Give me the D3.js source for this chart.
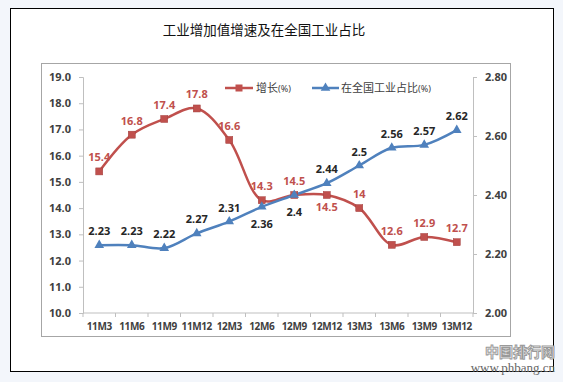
<!DOCTYPE html>
<html><head><meta charset="utf-8">
<script src="https://cdn.jsdelivr.net/npm/d3@7"></script>
<style>
html,body{margin:0;padding:0;background:#f3f6fb;}
svg{display:block;}
</style></head>
<body>
<svg id="c" width="563" height="382"></svg>
<script>
const categories = ["11M3","11M6","11M9","11M12","12M3","12M6","12M9","12M12","13M3","13M6","13M9","13M12"];
const growth = [15.4,16.8,17.4,17.8,16.6,14.3,14.5,14.5,14,12.6,12.9,12.7];
const share = [2.23,2.23,2.22,2.27,2.31,2.36,2.4,2.44,2.5,2.56,2.57,2.62];
const leftTicks = [10,11,12,13,14,15,16,17,18,19];
const rightTicks = [2.0,2.2,2.4,2.6,2.8];
const growthLabelBelow = [false,false,false,false,false,false,false,true,false,false,false,false];
const shareLabelBelow = [false,false,false,false,false,true,true,false,false,false,false,false];
const title = "工业增加值增速及在全国工业占比";
const seriesNames = ["增长", "在全国工业占比"];

const svg = d3.select("#c");
const RED = "#c0504d", BLUE = "#4f81bd";
const numFont = "'Noto Sans', 'DejaVu Sans', sans-serif";
const cjk = "'Noto Sans CJK SC', sans-serif";

// outer frame
svg.append("rect").attr("x",10.5).attr("y",8.5).attr("width",543).attr("height",363)
  .attr("fill","#fff").attr("stroke","#000").attr("stroke-width",1);
// title
svg.append("text").attr("x",264).attr("y",35).attr("text-anchor","middle")
  .attr("font-family",cjk).attr("font-size",13.5).attr("fill","#111").text(title);
// inner frame
svg.append("rect").attr("x",41.5).attr("y",63.5).attr("width",469).attr("height",273)
  .attr("fill","#fff").attr("stroke","#a6a6a6").attr("stroke-width",1);

const x = d3.scaleBand().domain(categories).range([83,473]);
const yL = d3.scaleLinear().domain([10,19]).range([313,77]);
const yR = d3.scaleLinear().domain([2.0,2.8]).range([313,77]);
const cx = d => x(d) + x.bandwidth()/2;

// axes
const axisColor = "#bfbfbf";
const gL = svg.append("g").attr("transform","translate(83,0)")
  .call(d3.axisLeft(yL).tickValues(leftTicks).tickFormat(d3.format(".1f")).tickSize(4).tickPadding(8));
const gR = svg.append("g").attr("transform","translate(473,0)")
  .call(d3.axisRight(yR).tickValues(rightTicks).tickFormat(d3.format(".2f")).tickSize(4).tickPadding(8));
const gX = svg.append("g").attr("transform","translate(0,313)")
  .call(d3.axisBottom(x).tickSize(0).tickPadding(10));
// x tick marks at band boundaries
gX.selectAll(".bt").data(categories.concat(["_end"])).enter().append("line")
  .attr("class","bt")
  .attr("x1",(d,i)=>83 + i*x.step()).attr("x2",(d,i)=>83 + i*x.step())
  .attr("y1",0).attr("y2",4).attr("stroke",axisColor);
[gL,gR,gX].forEach(g=>{
  g.selectAll("path").attr("stroke",axisColor);
  g.selectAll(".tick line").attr("stroke",axisColor);
  g.selectAll("text").attr("font-family",numFont).attr("font-weight","bold")
    .attr("font-size",11).attr("fill","#404040");
});
gX.selectAll("text").attr("font-size",10).attr("letter-spacing",-0.4);
gX.select("path").attr("d","M83,0H473");

// lines
const curve = d3.curveCatmullRom.alpha(0.5);
const lineG = d3.line().x((d,i)=>cx(categories[i])).y(d=>yL(d)).curve(curve);
const lineS = d3.line().x((d,i)=>cx(categories[i])).y(d=>yR(d)).curve(curve);

svg.append("path").attr("d",lineG(growth)).attr("fill","none").attr("stroke",RED).attr("stroke-width",2.5);
svg.append("path").attr("d",lineS(share)).attr("fill","none").attr("stroke",BLUE).attr("stroke-width",2.5);

// markers
svg.selectAll(".sq").data(growth).enter().append("rect")
  .attr("x",(d,i)=>cx(categories[i])-3.5).attr("y",d=>yL(d)-3.5)
  .attr("width",7).attr("height",7).attr("fill",RED).attr("stroke","#a33f3c").attr("stroke-width",0.5);
const tri = d3.symbol().type(d3.symbolTriangle).size(40);
svg.selectAll(".tr").data(share).enter().append("path")
  .attr("d",tri).attr("transform",(d,i)=>`translate(${cx(categories[i])},${yR(d)})`)
  .attr("fill",BLUE);

// data labels
svg.selectAll(".lg").data(growth).enter().append("text")
  .attr("x",(d,i)=>cx(categories[i]))
  .attr("y",(d,i)=>growthLabelBelow[i] ? yL(d)+16 : yL(d)-10)
  .attr("text-anchor","middle").attr("font-family",numFont).attr("font-weight","bold")
  .attr("font-size",11).attr("fill",RED).text(d=>d);
svg.selectAll(".ls").data(share).enter().append("text")
  .attr("x",(d,i)=>cx(categories[i]))
  .attr("y",(d,i)=>shareLabelBelow[i] ? yR(d)+21 : yR(d)-10)
  .attr("text-anchor","middle").attr("font-family",numFont).attr("font-weight","bold")
  .attr("font-size",11).attr("fill","#262626").text(d=>d);

// legend
const lg = svg.append("g");
lg.append("line").attr("x1",225).attr("x2",253).attr("y1",88).attr("y2",88).attr("stroke",RED).attr("stroke-width",2.5);
lg.append("rect").attr("x",235.5).attr("y",84.5).attr("width",7).attr("height",7).attr("fill",RED);
const t1 = lg.append("text").attr("x",256).attr("y",92).attr("font-family",cjk).attr("font-size",11).attr("fill","#404040");
t1.append("tspan").text(seriesNames[0]);
t1.append("tspan").attr("font-size",9).attr("font-family",numFont).text("(%)");
lg.append("line").attr("x1",312).attr("x2",339).attr("y1",88).attr("y2",88).attr("stroke",BLUE).attr("stroke-width",2.5);
lg.append("path").attr("d",tri).attr("transform","translate(325.5,88)").attr("fill",BLUE);
const t2 = lg.append("text").attr("x",341).attr("y",92).attr("font-family",cjk).attr("font-size",11).attr("fill","#404040");
t2.append("tspan").text(seriesNames[1]);
t2.append("tspan").attr("font-size",9).attr("font-family",numFont).text("(%)");

// watermark
svg.append("text").attr("x",555).attr("y",357).attr("text-anchor","end")
  .attr("font-family",cjk).attr("font-weight","bold").attr("font-size",14)
  .attr("fill","#fff").attr("stroke","#9a9a9a").attr("stroke-width",1).text("中国排行网");
svg.append("text").attr("x",555).attr("y",372).attr("text-anchor","end")
  .attr("font-family","'Liberation Serif', serif").attr("font-size",13)
  .attr("fill","#666").text("www.phbang.cn");
</script>
</body></html>
